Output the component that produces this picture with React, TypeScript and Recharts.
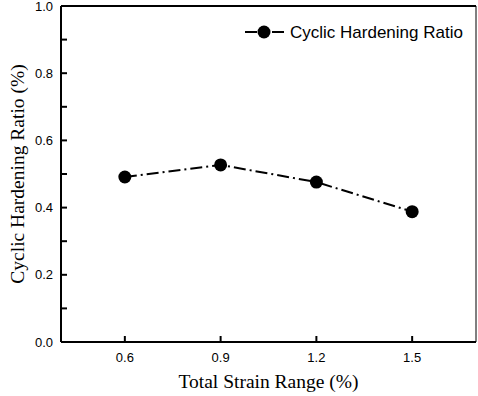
import React from 'react';
import { LineChart, Line, XAxis, YAxis, ReferenceLine } from 'recharts';

const strainRanges = [0.6, 0.9, 1.2, 1.5];
const hardeningRatios = [0.491, 0.527, 0.476, 0.388];
const xTicks = [0.6, 0.9, 1.2, 1.5];
const yTicks = [0, 0.1, 0.2, 0.3, 0.4, 0.5, 0.6, 0.7, 0.8, 0.9, 1.0];
const yLabels = [0, 0.2, 0.4, 0.6, 0.8, 1.0];

const data = strainRanges.map((x, i) => ({ strain: x, ratio: hardeningRatios[i] }));

const SANS = '"Liberation Sans", Arial, sans-serif';
const SERIF = '"Liberation Serif", "Times New Roman", serif';

const XTick = (props: any) => {
  const { x, y, payload } = props;
  return (
    <g>
      <line x1={x} x2={x} y1={y} y2={y - 6} stroke="#000" strokeWidth={2} />
      <text x={x} y={y + 20} textAnchor="middle" fontFamily={SANS} fontSize={13} fill="#000">
        {payload.value.toFixed(1)}
      </text>
    </g>
  );
};

const YTick = (props: any) => {
  const { x, y, payload } = props;
  const v = payload.value;
  const major = yLabels.some((l) => Math.abs(l - v) < 1e-6);
  return (
    <g>
      <line x1={x} x2={x + 6} y1={y} y2={y} stroke="#000" strokeWidth={2} />
      {major && (
        <text x={x - 8} y={y + 4.5} textAnchor="end" fontFamily={SANS} fontSize={13} fill="#000">
          {v.toFixed(1)}
        </text>
      )}
    </g>
  );
};

const XTitle = (props: any) => {
  const { viewBox } = props;
  return (
    <text x={viewBox.x + viewBox.width / 2} y={388} textAnchor="middle" fontFamily={SERIF} fontSize={19.5} fill="#000">
      Total Strain Range (%)
    </text>
  );
};

const YTitle = (props: any) => {
  const { viewBox } = props;
  const cy = viewBox.y + viewBox.height / 2;
  return (
    <text
      x={24}
      y={cy}
      transform={`rotate(-90, 24, ${cy})`}
      textAnchor="middle"
      fontFamily={SERIF}
      fontSize={19.5}
      fill="#000"
    >
      Cyclic Hardening Ratio (%)
    </text>
  );
};

const LegendBox = () => (
  <svg width={230} height={22} style={{ position: 'absolute', left: 243, top: 21 }}>
    <line x1={2} x2={14} y1={11} y2={11} stroke="#000" strokeWidth={2} />
    <line x1={29} x2={41} y1={11} y2={11} stroke="#000" strokeWidth={2} />
    <circle cx={21} cy={11} r={6.5} fill="#000" />
    <text x={47} y={17} fontFamily={SANS} fontSize={17} fill="#000">
      Cyclic Hardening Ratio
    </text>
  </svg>
);

export default function App() {
  return (
    <div style={{ position: 'absolute', left: 0, top: 0, width: 478, height: 396, background: '#fff' }}>
      <LineChart width={478} height={396} data={data} margin={{ top: 6, right: 2, left: 0, bottom: 0 }}>
        <XAxis
          dataKey="strain"
          type="number"
          domain={[0.4, 1.7]}
          ticks={xTicks}
          allowDataOverflow
          height={54}
          tickSize={0}
          tickMargin={0}
          tickLine={false}
          tick={<XTick />}
          axisLine={{ stroke: '#000', strokeWidth: 2 }}
          label={<XTitle />}
        />
        <YAxis
          type="number"
          domain={[0, 1]}
          ticks={yTicks}
          interval={0}
          width={61}
          tickSize={0}
          tickMargin={0}
          tickLine={false}
          tick={<YTick />}
          axisLine={{ stroke: '#000', strokeWidth: 2 }}
          label={<YTitle />}
        />
        <ReferenceLine y={1} stroke="#000" strokeWidth={2} />
        <ReferenceLine x={1.7} stroke="#000" strokeWidth={1} />
        <Line
          dataKey="ratio"
          stroke="#000"
          strokeWidth={2}
          strokeDasharray="12 4 2 4"
          dot={{ r: 6.5, fill: '#000', stroke: '#000', strokeWidth: 0 }}
          isAnimationActive={false}
        />
      </LineChart>
      <LegendBox />
    </div>
  );
}
